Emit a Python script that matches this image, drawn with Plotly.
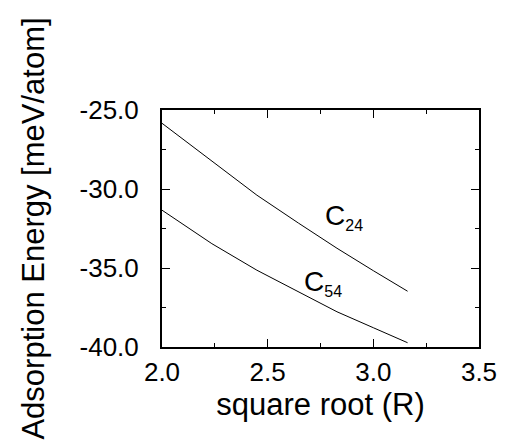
import plotly.graph_objects as go

# x = square root of R (R = 4..10)
sqrt_r = [2.0, 2.236, 2.449, 2.646, 2.828, 3.0, 3.162]
c24_energy = [-25.84, -28.26, -30.39, -32.16, -33.75, -35.17, -36.47]
c54_energy = [-31.34, -33.46, -35.14, -36.53, -37.77, -38.78, -39.73]

x_ticks = [2.0, 2.5, 3.0, 3.5]
x_tick_labels = ["2.0", "2.5", "3.0", "3.5"]
y_ticks = [-40.0, -35.0, -30.0, -25.0]
y_tick_labels = ["-40.0", "-35.0", "-30.0", "-25.0"]

FONT = "Liberation Sans, Arial, sans-serif"

fig = go.Figure()
for yv in (c24_energy, c54_energy):
    fig.add_trace(go.Scatter(x=sqrt_r, y=yv, mode="lines",
                             line=dict(color="black", width=1),
                             showlegend=False, hoverinfo="skip"))

sub = "<span style='font-size:16px'>{}</span>"
fig.add_annotation(x=2.76, y=-31.75, xref="x", yref="y", showarrow=False,
                   text="C<sub>" + sub.format("24") + "</sub>",
                   xanchor="left", yanchor="middle",
                   font=dict(family=FONT, size=28, color="black"))
fig.add_annotation(x=2.661, y=-35.95, xref="x", yref="y", showarrow=False,
                   text="C<sub>" + sub.format("54") + "</sub>",
                   xanchor="left", yanchor="middle",
                   font=dict(family=FONT, size=28, color="black"))

axis_common = dict(
    showgrid=False, zeroline=False, showline=True, linewidth=2, linecolor="black",
    mirror="ticks", ticks="inside", ticklen=8, tickwidth=1, tickcolor="black",
    tickfont=dict(family=FONT, size=26, color="black"),
)

fig.update_xaxes(range=[2.0, 3.5], tickvals=x_ticks, ticktext=x_tick_labels,
                 minor=dict(ticks="inside", ticklen=4, dtick=0.25, tickcolor="black", showgrid=False),
                 title=dict(text="square root (R)", font=dict(family=FONT, size=31, color="black"),
                            standoff=6),
                 ticklabelstandoff=1,
                 **axis_common)
fig.update_yaxes(range=[-40.0, -25.0], tickvals=y_ticks, ticktext=y_tick_labels,
                 minor=dict(ticks="inside", ticklen=4, dtick=2.5, tickcolor="black", showgrid=False),
                 title=dict(text="Adsorption Energy [meV/atom]",
                            font=dict(family=FONT, size=31, color="black"), standoff=26),
                 ticklabelstandoff=16,
                 **axis_common)

fig.update_layout(
    width=509, height=441,
    margin=dict(l=162, r=20, t=110, b=94),
    plot_bgcolor="white", paper_bgcolor="white",
    font=dict(family=FONT, color="black"),
)

fig.write_html("out.html")
